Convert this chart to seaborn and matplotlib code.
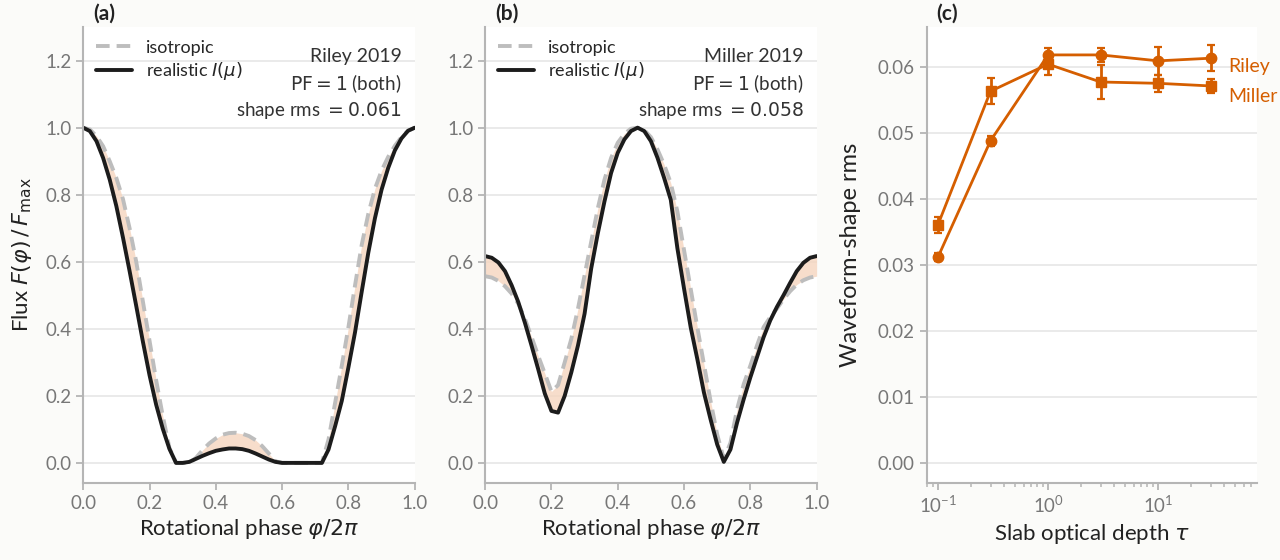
import numpy as np
import pandas as pd
import seaborn as sns
import matplotlib.pyplot as plt
from matplotlib.lines import Line2D

# phase grid (rotational phase / 2pi)
phase = [0.00, 0.02, 0.04, 0.06, 0.08, 0.10, 0.12, 0.14, 0.16, 0.18,
         0.20, 0.22, 0.24, 0.26, 0.28, 0.30, 0.32, 0.34, 0.36, 0.38,
         0.40, 0.42, 0.44, 0.46, 0.48, 0.50, 0.52, 0.54, 0.56, 0.58,
         0.60, 0.62, 0.64, 0.66, 0.68, 0.70, 0.72, 0.74, 0.76, 0.78,
         0.80, 0.82, 0.84, 0.86, 0.88, 0.90, 0.92, 0.94, 0.96, 0.98, 1.00]

# (a) Riley 2019
riley_iso = [1.000, 0.995, 0.975, 0.945, 0.900, 0.850, 0.787, 0.700, 0.600, 0.482,
             0.365, 0.247, 0.140, 0.045, 0.000, 0.000, 0.000, 0.015, 0.038, 0.058,
             0.073, 0.084, 0.089, 0.090, 0.087, 0.080, 0.068, 0.050, 0.028, 0.005,
             0.000, 0.000, 0.000, 0.000, 0.000, 0.000, 0.000, 0.070, 0.180, 0.290,
             0.405, 0.530, 0.650, 0.743, 0.818, 0.872, 0.913, 0.946, 0.972, 0.991, 1.000]
riley_real = [1.000, 0.990, 0.960, 0.910, 0.845, 0.766, 0.672, 0.572, 0.468, 0.362,
              0.262, 0.174, 0.102, 0.042, 0.000, 0.000, 0.003, 0.012, 0.021, 0.029,
              0.036, 0.040, 0.043, 0.043, 0.041, 0.036, 0.028, 0.019, 0.010, 0.003,
              0.000, 0.000, 0.000, 0.000, 0.000, 0.000, 0.000, 0.040, 0.110, 0.185,
              0.285, 0.390, 0.510, 0.627, 0.730, 0.815, 0.880, 0.932, 0.968, 0.991, 1.000]

# (b) Miller 2019
miller_iso = [0.557, 0.553, 0.543, 0.527, 0.505, 0.475, 0.430, 0.376, 0.320, 0.267,
              0.213, 0.232, 0.300, 0.370, 0.460, 0.560, 0.660, 0.760, 0.845, 0.910,
              0.955, 0.982, 0.997, 1.000, 0.993, 0.972, 0.935, 0.890, 0.835, 0.750,
              0.635, 0.520, 0.405, 0.295, 0.185, 0.085, 0.012, 0.060, 0.160, 0.235,
              0.290, 0.350, 0.405, 0.435, 0.460, 0.488, 0.512, 0.532, 0.545, 0.553, 0.557]
miller_real = [0.617, 0.612, 0.598, 0.572, 0.530, 0.480, 0.418, 0.350, 0.280, 0.207,
               0.155, 0.150, 0.200, 0.270, 0.350, 0.445, 0.580, 0.685, 0.780, 0.865,
               0.925, 0.965, 0.990, 1.000, 0.990, 0.960, 0.910, 0.850, 0.785, 0.640,
               0.520, 0.405, 0.310, 0.210, 0.130, 0.055, 0.003, 0.040, 0.120, 0.190,
               0.255, 0.315, 0.375, 0.425, 0.465, 0.500, 0.537, 0.572, 0.597, 0.612, 0.617]

# (c) shape rms vs slab optical depth
tau = [0.1, 0.3, 1, 3, 10, 30]
rms_riley = [0.0312, 0.0488, 0.0618, 0.0618, 0.0609, 0.0613]
err_riley = [0.0006, 0.0008, 0.0010, 0.0010, 0.0021, 0.0020]
rms_miller = [0.0361, 0.0563, 0.0604, 0.0577, 0.0575, 0.0571]
err_miller = [0.0012, 0.0020, 0.0016, 0.0026, 0.0013, 0.0010]

panel_info = [
    ('(a)', 'Riley 2019', '0.061', riley_iso, riley_real),
    ('(b)', 'Miller 2019', '0.058', miller_iso, miller_real),
]

sns.set_theme(style='white')
plt.rcParams['font.family'] = ['Lato', 'DejaVu Sans']
plt.rcParams['mathtext.fontset'] = 'dejavusans'

ORANGE = '#d55e00'
GREY_TXT = '#777777'
SPINE = '#b5b5b5'
LABEL_SIZE = 16

fig = plt.figure(figsize=(12.8, 5.6), dpi=100, facecolor='#fbfbf9')
axes = [fig.add_axes([0.065, 0.1375, 0.259, 0.814]),
        fig.add_axes([0.379, 0.1375, 0.259, 0.814]),
        fig.add_axes([0.724, 0.1375, 0.258, 0.814])]


def style_axis(ax):
    ax.set_facecolor('white')
    for s in ['top', 'right']:
        ax.spines[s].set_visible(False)
    for s in ['left', 'bottom']:
        ax.spines[s].set_color(SPINE)
        ax.spines[s].set_linewidth(1.5)
    ax.yaxis.grid(True, color='#e8e8e8', linewidth=1.3)
    ax.set_axisbelow(True)
    ax.tick_params(axis='both', which='major', colors=SPINE, labelcolor=GREY_TXT,
                   labelsize=13.5, length=5, width=1.3, left=True, bottom=True)


for ax, (tag, name, rms, iso, real) in zip(axes[:2], panel_info):
    style_axis(ax)
    df = pd.DataFrame({'phase': phase, 'iso': iso, 'real': real})
    ax.fill_between(df['phase'], df['iso'], df['real'], color='#f5d5bf', alpha=0.8, lw=0)
    sns.lineplot(data=df, x='phase', y='iso', ax=ax, color='#bdbdbd', lw=2.8,
                 linestyle=(0, (3.5, 1.8)))
    sns.lineplot(data=df, x='phase', y='real', ax=ax, color='#1c1c1c', lw=2.8)
    ax.set_xlim(0, 1)
    ax.set_ylim(-0.06, 1.3)
    ax.set_xticks([0, 0.2, 0.4, 0.6, 0.8, 1.0])
    ax.set_yticks([0, 0.2, 0.4, 0.6, 0.8, 1.0, 1.2])
    ax.set_xlabel(r'Rotational phase $\varphi/2\pi$', fontsize=LABEL_SIZE, color='#222222')
    ax.set_ylabel('')
    ax.text(0.03, 1.008, tag, transform=ax.transAxes, fontsize=15, color='#222222',
            fontweight='bold', va='bottom', ha='left')
    handles = [Line2D([], [], color='#bdbdbd', lw=2.8, linestyle=(0, (3.5, 1.8))),
               Line2D([], [], color='#1c1c1c', lw=2.8)]
    ax.legend(handles, ['isotropic', r'realistic $I(\mu)$'], loc='upper left',
              frameon=False, fontsize=13, handlelength=2.0, borderaxespad=0.3,
              labelspacing=0.25, bbox_to_anchor=(0.0, 1.0))
    ax.text(0.96, 0.935, name, transform=ax.transAxes, ha='right', va='center',
            fontsize=14, color='#333333')
    ax.text(0.96, 0.876, r'$\mathrm{PF}=1$ (both)', transform=ax.transAxes, ha='right',
            va='center', fontsize=13.5, color='#333333')
    ax.text(0.96, 0.817, r'shape rms $=0.' + rms[2:] + '$', transform=ax.transAxes,
            ha='right', va='center', fontsize=13.5, color='#333333')

axes[0].set_ylabel(r'Flux $F(\varphi)\,/\,F_{\rm max}$', fontsize=LABEL_SIZE,
                   color='#222222', labelpad=8)

# panel (c)
ax = axes[2]
style_axis(ax)
ax.set_xscale('log')
ax.errorbar(tau, rms_riley, yerr=err_riley, color=ORANGE, marker='o', ms=7.5,
            lw=2, capsize=3, elinewidth=2, capthick=1.6)
ax.errorbar(tau, rms_miller, yerr=err_miller, color=ORANGE, marker='s', ms=7,
            lw=2, capsize=3, elinewidth=2, capthick=1.6)
ax.text(tau[-1] * 1.45, rms_riley[-1] - 0.0013, 'Riley', color=ORANGE, fontsize=14,
        va='center', ha='left')
ax.text(tau[-1] * 1.45, rms_miller[-1] - 0.0016, 'Miller', color=ORANGE, fontsize=14,
        va='center', ha='left')
ax.set_xlim(0.079, 79)
ax.set_ylim(-0.003, 0.066)
ax.set_yticks([0, 0.01, 0.02, 0.03, 0.04, 0.05, 0.06])
ax.set_yticklabels(['0.00', '0.01', '0.02', '0.03', '0.04', '0.05', '0.06'])
ax.set_xticks([0.1, 1, 10])
ax.tick_params(axis='x', which='minor', colors=SPINE, length=3, width=1.1, bottom=True)
ax.set_xlabel(r'Slab optical depth $\tau$', fontsize=LABEL_SIZE, color='#222222')
ax.set_ylabel('Waveform-shape rms', fontsize=17, color='#222222', labelpad=12)
ax.text(0.03, 1.008, '(c)', transform=ax.transAxes, fontsize=15, color='#222222',
        fontweight='bold', va='bottom', ha='left')

fig.savefig('out.png', dpi=100, facecolor=fig.get_facecolor())
